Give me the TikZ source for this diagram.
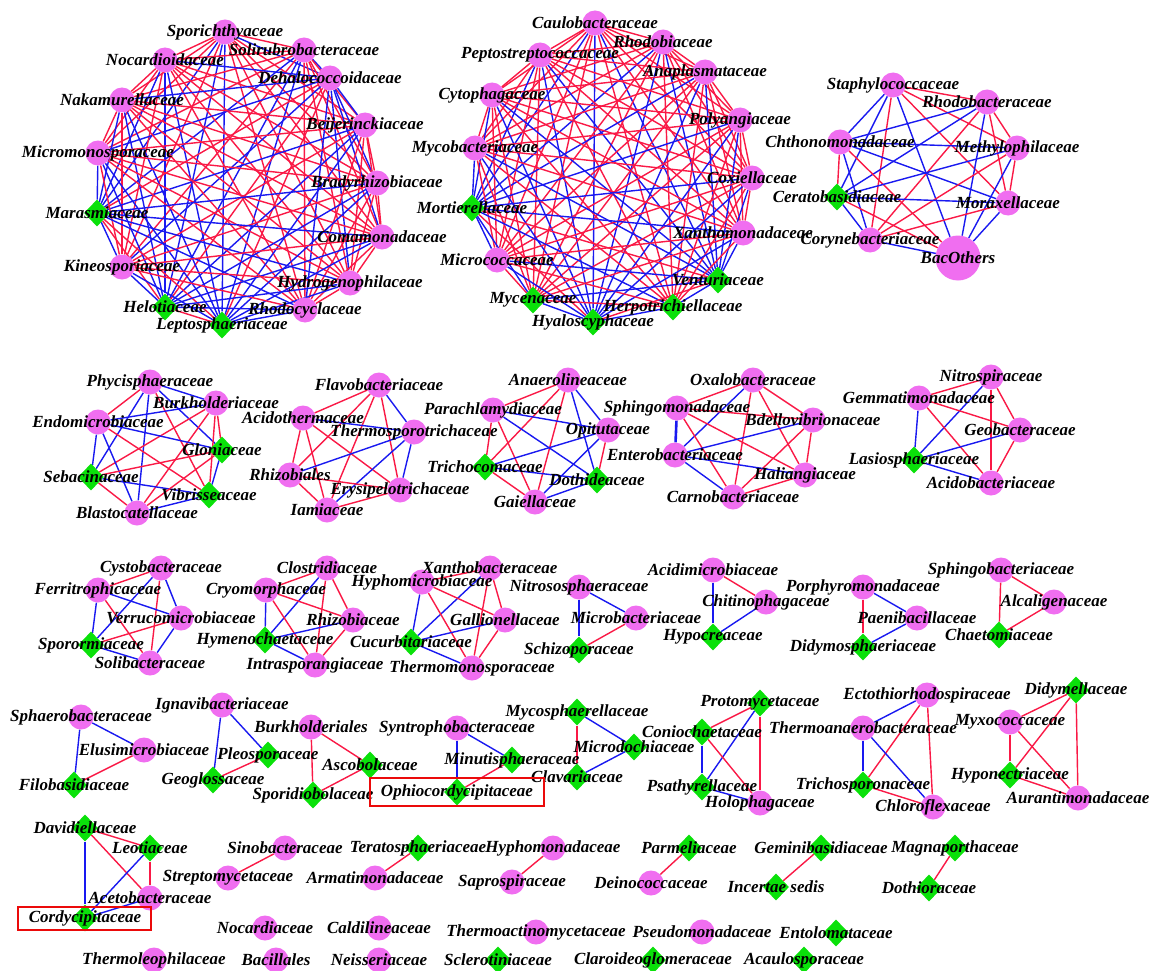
\documentclass[tikz,border=0pt]{standalone}
\usepackage{fontspec}
\setmainfont{Liberation Serif}
\usetikzlibrary{shapes.geometric}
\definecolor{bacfill}{RGB}{240,110,240}
\definecolor{funfill}{RGB}{10,225,10}
\definecolor{posred}{RGB}{250,25,70}
\definecolor{negblue}{RGB}{25,25,240}
\definecolor{boxred}{RGB}{235,10,10}
\pgfdeclarelayer{edges}
\pgfdeclarelayer{labels}
\pgfsetlayers{edges,main,labels}
\newcommand\labfont{\fontsize{17}{17}\selectfont\bfseries\itshape}
\tikzset{
  bac/.style={circle,fill=bacfill,minimum size=25pt,inner sep=0pt},
  fun/.style={diamond,fill=funfill,minimum width=26pt,minimum height=27pt,inner sep=0pt},
  lab/.style={font=\labfont,inner sep=0pt,text=black},
  pedge/.style={draw=posred,line width=1.4pt},
  nedge/.style={draw=negblue,line width=1.4pt},
  wide/.style={line width=2.6pt},
  hbox/.style={draw=boxred,line width=2.4pt}
}
\newcommand\bacN[4]{\node[bac] (#1) at (#2,#3) {};\begin{pgfonlayer}{labels}\node[lab] at (#1) {#4};\end{pgfonlayer}}
\newcommand\funN[4]{\node[fun] (#1) at (#2,#3) {};\begin{pgfonlayer}{labels}\node[lab] at (#1) {#4};\end{pgfonlayer}}
\newcommand\Pe[2]{\draw[pedge] (#1)--(#2);}
\newcommand\Ne[2]{\draw[nedge] (#1)--(#2);}
\def\cliqueA{spo/0,sol/0,noc/0,deh/1,nak/0,bei/0,mic/0,bra/0,mar/1,com/0,kin/0,hyd/0,hel/1,rhc/0,lep/1}
\def\cliqueB{cau/0,rhb/0,pep/0,ana/0,cyt/0,pol/0,myb/0,cox/0,mor/1,xan/0,mcc/0,ven/1,myc/0,her/0,hya/1}
\begin{document}
\begin{tikzpicture}[x=1pt,y=-1pt]
\useasboundingbox (0,0) rectangle (1153,971);
\begin{pgfonlayer}{edges}\fill[white] (0,0) rectangle (1153,971);\end{pgfonlayer}
% ---------- cluster 1
\bacN{spo}{225}{32}{Sporichthyaceae}
\bacN{sol}{304}{50}{Solirubrobacteraceae}
\bacN{noc}{165}{60}{Nocardioidaceae}
\bacN{deh}{330}{78}{Dehalococcoidaceae}
\bacN{nak}{122}{100}{Nakamurellaceae}
\bacN{bei}{365}{125}{Beijerinckiaceae}
\bacN{mic}{98}{153}{Micromonosporaceae}
\bacN{bra}{377}{183}{Bradyrhizobiaceae}
\funN{mar}{97}{213}{Marasmiaceae}
\bacN{com}{382}{237}{Comamonadaceae}
\bacN{kin}{122}{267}{Kineosporiaceae}
\bacN{hyd}{350}{283}{Hydrogenophilaceae}
\funN{hel}{165}{307}{Helotiaceae}
\bacN{rhc}{305}{310}{Rhodocyclaceae}
\funN{lep}{222}{325}{Leptosphaeriaceae}
% ---------- cluster 2
\bacN{cau}{595}{23}{Caulobacteraceae}
\bacN{rhb}{663}{42}{Rhodobiaceae}
\bacN{pep}{540}{55}{Peptostreptococcaceae}
\bacN{ana}{705}{72}{Anaplasmataceae}
\bacN{cyt}{492}{95}{Cytophagaceae}
\bacN{pol}{740}{120}{Polyangiaceae}
\bacN{myb}{475}{148}{Mycobacteriaceae}
\bacN{cox}{752}{178}{Coxiellaceae}
\funN{mor}{472}{208}{Mortierellaceae}
\bacN{xan}{743}{233}{Xanthomonadaceae}
\bacN{mcc}{497}{260}{Micrococcaceae}
\funN{ven}{718}{280}{Venturiaceae}
\funN{myc}{533}{300}{Mycenaceae}
\funN{her}{673}{307}{Herpotrichiellaceae}
\funN{hya}{593}{322}{Hyaloscyphaceae}
% ---------- cluster 3
\bacN{sta}{893}{85}{Staphylococcaceae}
\bacN{rba}{987}{102}{Rhodobacteraceae}
\bacN{cht}{840}{142}{Chthonomonadaceae}
\bacN{met}{1017}{148}{Methylophilaceae}
\funN{cer}{837}{197}{Ceratobasidiaceae}
\bacN{mox}{1008}{203}{Moraxellaceae}
\bacN{cor}{870}{240}{Corynebacteriaceae}
\node[bac,minimum size=45pt] (bao) at (958,258) {};
\begin{pgfonlayer}{labels}\node[lab] at (bao) {BacOthers};\end{pgfonlayer}
% ---------- row 2
\bacN{phy}{150}{382}{Phycisphaeraceae}
\bacN{bur}{216}{403}{Burkholderiaceae}
\bacN{end}{98}{422}{Endomicrobiaceae}
\funN{glo}{222}{450}{Gloniaceae}
\funN{seb}{91}{477}{Sebacinaceae}
\funN{vib}{209}{495}{Vibrisseaceae}
\bacN{bla}{137}{513}{Blastocatellaceae}
\bacN{fla}{379}{385}{Flavobacteriaceae}
\bacN{aci}{303}{418}{Acidothermaceae}
\bacN{ths}{414}{432}{Thermosporotrichaceae}
\bacN{rhz}{290}{475}{Rhizobiales}
\bacN{ery}{400}{490}{Erysipelotrichaceae}
\bacN{iam}{327}{510}{Iamiaceae}
\bacN{ane}{568}{380}{Anaerolineaceae}
\bacN{par}{493}{410}{Parachlamydiaceae}
\bacN{opi}{608}{430}{Opitutaceae}
\funN{tri}{485}{467}{Trichocomaceae}
\funN{dot}{597}{480}{Dothideaceae}
\bacN{gai}{535}{502}{Gaiellaceae}
\bacN{oxa}{753}{380}{Oxalobacteraceae}
\bacN{sph}{677}{408}{Sphingomonadaceae}
\bacN{bde}{813}{420}{Bdellovibrionaceae}
\bacN{ent}{675}{455}{Enterobacteriaceae}
\bacN{hal}{805}{475}{Haliangiaceae}
\bacN{car}{733}{497}{Carnobacteriaceae}
\bacN{nit}{991}{377}{Nitrospiraceae}
\bacN{gem}{919}{398}{Gemmatimonadaceae}
\bacN{geo}{1020}{430}{Geobacteraceae}
\funN{las}{914}{460}{Lasiosphaeriaceae}
\bacN{acb}{991}{483}{Acidobacteriaceae}
% ---------- row 3
\bacN{cys}{161}{568}{Cystobacteraceae}
\bacN{fer}{98}{590}{Ferritrophicaceae}
\bacN{ver}{181}{618}{Verrucomicrobiaceae}
\funN{spr}{91}{645}{Sporormiaceae}
\bacN{sob}{150}{663}{Solibacteraceae}
\bacN{clo}{327}{568}{Clostridiaceae}
\bacN{cry}{266}{590}{Cryomorphaceae}
\bacN{rzc}{353}{620}{Rhizobiaceae}
\funN{hym}{265}{640}{Hymenochaetaceae}
\bacN{int}{315}{665}{Intrasporangiaceae}
\bacN{xab}{490}{568}{Xanthobacteraceae}
\bacN{hyp}{422}{582}{Hyphomicrobiaceae}
\bacN{gal}{505}{620}{Gallionellaceae}
\funN{cuc}{411}{642}{Cucurbitariaceae}
\bacN{tmm}{472}{668}{Thermomonosporaceae}
\bacN{nss}{579}{587}{Nitrososphaeraceae}
\bacN{mib}{636}{618}{Microbacteriaceae}
\funN{sch}{579}{650}{Schizoporaceae}
\bacN{acm}{713}{570}{Acidimicrobiaceae}
\bacN{chi}{766}{602}{Chitinophagaceae}
\funN{hyc}{713}{637}{Hypocreaceae}
\bacN{por}{863}{587}{Porphyromonadaceae}
\bacN{pae}{917}{618}{Paenibacillaceae}
\funN{did}{863}{647}{Didymosphaeriaceae}
\bacN{sbc}{1001}{570}{Sphingobacteriaceae}
\bacN{alc}{1054}{602}{Alcaligenaceae}
\funN{cha}{999}{635}{Chaetomiaceae}
% ---------- row 4
\bacN{sba}{81}{717}{Sphaerobacteraceae}
\bacN{elu}{144}{750}{Elusimicrobiaceae}
\funN{fil}{74}{785}{Filobasidiaceae}
\bacN{ign}{222}{705}{Ignavibacteriaceae}
\funN{ple}{268}{755}{Pleosporaceae}
\funN{geg}{213}{780}{Geoglossaceae}
\bacN{bul}{311}{727}{Burkholderiales}
\funN{asc}{370}{765}{Ascobolaceae}
\funN{spd}{313}{795}{Sporidiobolaceae}
\bacN{syn}{457}{728}{Syntrophobacteraceae}
\funN{min}{512}{760}{Minutisphaeraceae}
\funN{oph}{457}{792}{Ophiocordycipitaceae}
\funN{mys}{577}{712}{Mycosphaerellaceae}
\funN{mdo}{634}{747}{Microdochiaceae}
\funN{cla}{577}{777}{Clavariaceae}
\funN{pro}{760}{703}{Protomycetaceae}
\funN{con}{702}{732}{Coniochaetaceae}
\funN{psa}{702}{787}{Psathyrellaceae}
\bacN{hol}{760}{803}{Holophagaceae}
\bacN{ect}{927}{695}{Ectothiorhodospiraceae}
\bacN{tha}{863}{728}{Thermoanaerobacteraceae}
\funN{tsp}{863}{785}{Trichosporonaceae}
\bacN{chl}{933}{807}{Chloroflexaceae}
\funN{dym}{1076}{690}{Didymellaceae}
\bacN{myx}{1010}{722}{Myxococcaceae}
\funN{hpn}{1010}{775}{Hyponectriaceae}
\bacN{aur}{1078}{798}{Aurantimonadaceae}
% ---------- row 5
\funN{dav}{85}{828}{Davidiellaceae}
\funN{leo}{150}{848}{Leotiaceae}
\bacN{act}{150}{898}{Acetobacteraceae}
\funN{cdy}{85}{918}{Cordycipitaceae}
\bacN{sin}{285}{848}{Sinobacteraceae}
\bacN{stp}{228}{878}{Streptomycetaceae}
\funN{ter}{418}{848}{Teratosphaeriaceae}
\bacN{arm}{375}{878}{Armatimonadaceae}
\bacN{hph}{553}{848}{Hyphomonadaceae}
\bacN{sap}{512}{882}{Saprospiraceae}
\funN{prm}{689}{848}{Parmeliaceae}
\bacN{dei}{651}{883}{Deinococcaceae}
\funN{gmb}{821}{848}{Geminibasidiaceae}
\funN{ins}{776}{887}{Incertae sedis}
\funN{mag}{955}{848}{Magnaporthaceae}
\funN{dth}{929}{888}{Dothioraceae}
\bacN{noa}{265}{928}{Nocardiaceae}
\bacN{cal}{379}{928}{Caldilineaceae}
\bacN{tac}{536}{932}{Thermoactinomycetaceae}
\bacN{pse}{702}{932}{Pseudomonadaceae}
\funN{enl}{836}{933}{Entolomataceae}
\bacN{tml}{154}{960}{Thermoleophilaceae}
\bacN{bcl}{276}{960}{Bacillales}
\bacN{nei}{379}{960}{Neisseriaceae}
\funN{scl}{498}{960}{Sclerotiniaceae}
\funN{clr}{653}{960}{Claroideoglomeraceae}
\funN{acs}{804}{960}{Acaulosporaceae}
% ---------- highlight boxes
\begin{pgfonlayer}{labels}
\draw[hbox] ([xshift=-87pt,yshift=14pt]oph.center) rectangle ([xshift=87pt,yshift=-14pt]oph.center);
\draw[hbox] ([xshift=-67pt,yshift=11pt]cdy.center) rectangle ([xshift=66pt,yshift=-12pt]cdy.center);
\end{pgfonlayer}
% ---------- edges
\begin{pgfonlayer}{edges}
\foreach \a/\ga [count=\i] in \cliqueA {
  \foreach \b/\gb [count=\j] in \cliqueA {
    \ifnum\j>\i\relax
      \ifnum\ga=\gb\relax \draw[pedge] (\a)--(\b); \else \draw[nedge] (\a)--(\b); \fi
    \fi
  }
}
\foreach \a/\ga [count=\i] in \cliqueB {
  \foreach \b/\gb [count=\j] in \cliqueB {
    \ifnum\j>\i\relax
      \ifnum\ga=\gb\relax \draw[pedge] (\a)--(\b); \else \draw[nedge] (\a)--(\b); \fi
    \fi
  }
}
% cluster 3
\Pe{sta}{rba}\Ne{sta}{cht}\Ne{sta}{cer}\Pe{sta}{cor}\Ne{sta}{bao}\Pe{sta}{mox}\Pe{sta}{met}
\Ne{rba}{cht}\Ne{rba}{cer}\Pe{rba}{cor}\Ne{rba}{bao}\Pe{rba}{mox}\Pe{rba}{met}
\Ne{cht}{met}\Ne{cht}{mox}\Pe{cht}{cer}\Ne{cht}{cor}\Pe{cht}{bao}
\Ne{met}{cer}\Pe{met}{cor}\Ne{met}{bao}\Pe{met}{mox}
\Ne{cer}{mox}\Ne{cer}{cor}\Pe{cer}{bao}
\Pe{mox}{cor}\Ne{mox}{bao}
\Ne{cor}{bao}
% cluster A
\Pe{phy}{end}\Ne{phy}{bur}\Ne{phy}{glo}\Ne{phy}{seb}\Ne{phy}{bla}\Pe{phy}{vib}
\Ne{bur}{end}\Pe{bur}{seb}\Pe{bur}{bla}\Pe{bur}{vib}\Pe{bur}{glo}
\Ne{end}{glo}\Ne{end}{seb}\Ne{end}{bla}\Pe{end}{vib}
\Pe{seb}{glo}\Ne{seb}{vib}\Pe{seb}{bla}
\Pe{bla}{glo}\Ne{bla}{vib}\Ne{glo}{vib}
% cluster B
\Pe{fla}{aci}\Ne{fla}{ths}\Pe{fla}{rhz}\Pe{fla}{iam}\Pe{fla}{ery}
\Ne{aci}{ths}\Pe{aci}{rhz}\Pe{aci}{iam}\Pe{aci}{ery}
\Ne{ths}{rhz}\Ne{ths}{iam}\Ne{ths}{ery}
\Pe{rhz}{ery}\Pe{rhz}{iam}\Pe{iam}{ery}
% cluster C
\Pe{ane}{par}\Pe{ane}{tri}\Pe{ane}{gai}\Ne{ane}{opi}\Ne{ane}{dot}
\Ne{par}{opi}\Ne{par}{dot}\Pe{par}{tri}\Pe{par}{gai}
\Ne{tri}{opi}\Ne{tri}{dot}\Pe{tri}{gai}
\Ne{opi}{gai}\Pe{opi}{dot}\Ne{gai}{dot}
% cluster D
\Pe{oxa}{sph}\Pe{oxa}{bde}\Ne{oxa}{ent}\Pe{oxa}{car}\Pe{oxa}{hal}
\Pe{sph}{bde}\draw[nedge,wide] (sph)--(ent);\Pe{sph}{car}\Pe{sph}{hal}
\Ne{bde}{ent}\Pe{bde}{car}\Pe{bde}{hal}
\Ne{ent}{hal}\Ne{ent}{car}\Pe{car}{hal}
% cluster E
\Pe{nit}{gem}\Pe{nit}{geo}\Ne{nit}{las}\Pe{nit}{acb}
\Pe{gem}{geo}\Ne{gem}{las}\Pe{gem}{acb}
\Ne{geo}{las}\Pe{geo}{acb}\Ne{las}{acb}
% cluster F
\Pe{cys}{fer}\Ne{cys}{ver}\Ne{cys}{spr}\Pe{cys}{sob}
\Ne{fer}{ver}\Ne{fer}{spr}\Pe{fer}{sob}
\Pe{ver}{spr}\Ne{ver}{sob}\Ne{spr}{sob}
% cluster G
\Pe{clo}{cry}\Pe{clo}{rzc}\Ne{clo}{hym}\Pe{clo}{int}
\Pe{cry}{rzc}\Ne{cry}{hym}\Pe{cry}{int}
\Ne{rzc}{hym}\Pe{rzc}{int}\Ne{hym}{int}
% cluster H
\Pe{xab}{hyp}\Pe{xab}{gal}\Ne{xab}{cuc}\Pe{xab}{tmm}
\Pe{hyp}{gal}\Ne{hyp}{cuc}\Pe{hyp}{tmm}
\Ne{gal}{cuc}\Pe{gal}{tmm}\Ne{cuc}{tmm}
% triangles row 3
\Ne{nss}{mib}\Ne{nss}{sch}\Pe{mib}{sch}
\Pe{acm}{chi}\Ne{acm}{hyc}\Ne{chi}{hyc}
\Ne{por}{pae}\draw[pedge,wide] (por)--(did);\Ne{pae}{did}
\Pe{sbc}{alc}\Pe{sbc}{cha}\Pe{alc}{cha}
% row 4
\Ne{sba}{elu}\Ne{sba}{fil}\Pe{elu}{fil}
\Ne{ign}{ple}\Ne{ign}{geg}\Pe{ple}{geg}
\Pe{bul}{asc}\Pe{bul}{spd}\Pe{asc}{spd}
\Ne{syn}{min}\draw[nedge,wide] (syn)--(oph);\Pe{min}{oph}
\Ne{mys}{mdo}\draw[pedge,wide] (mys)--(cla);\Ne{mdo}{cla}
\Pe{pro}{con}\Ne{pro}{psa}\Pe{pro}{hol}\Ne{con}{psa}\Pe{con}{hol}\Ne{psa}{hol}
\Ne{ect}{tha}\Pe{ect}{tsp}\Pe{ect}{chl}\draw[nedge,wide] (tha)--(tsp);\Ne{tha}{chl}\Pe{tsp}{chl}
\Pe{dym}{myx}\Pe{dym}{hpn}\Pe{dym}{aur}\draw[pedge,wide] (myx)--(hpn);\Pe{myx}{aur}\Pe{hpn}{aur}
% row 5
\Pe{dav}{leo}\Pe{dav}{act}\Ne{dav}{cdy}\draw[pedge,wide] (leo)--(act);\Ne{leo}{cdy}\Ne{act}{cdy}
\Pe{sin}{stp}\Pe{ter}{arm}\Pe{hph}{sap}\Pe{prm}{dei}\Pe{gmb}{ins}\Pe{mag}{dth}
\end{pgfonlayer}
\end{tikzpicture}
\end{document}
